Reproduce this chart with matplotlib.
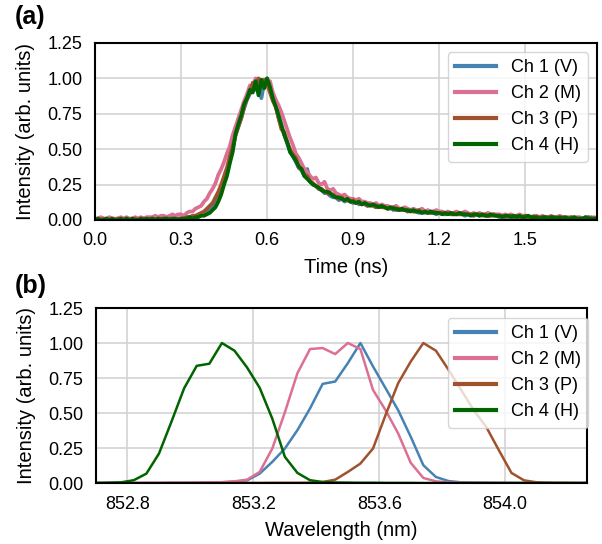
import numpy as np
import matplotlib.pyplot as plt

plt.rcParams["font.family"] = ["Liberation Sans", "DejaVu Sans"]

labels = ["Ch 1 (V)", "Ch 2 (M)", "Ch 3 (P)", "Ch 4 (H)"]
colors = ["#4682B4", "#DB7093", "#A0522D", "#006400"]

# (a) time traces, sampled every 10 ps from 0 to 1.75 ns
time_ns = np.round(np.arange(176) * 0.01, 2)

ch1_time = [
    0.00, 0.00, 0.01, 0.00, 0.00, 0.01, 0.00, 0.00, 0.01, 0.00,
    0.01, 0.00, 0.00, 0.01, 0.00, 0.01, 0.00, 0.00, 0.01, 0.00,
    0.00, 0.01, 0.00, 0.01, 0.01, 0.00, 0.01, 0.01, 0.00, 0.01,
    0.01, 0.01, 0.02, 0.02, 0.02, 0.03, 0.03, 0.04, 0.05, 0.06,
    0.08, 0.10, 0.13, 0.17, 0.21, 0.27, 0.33, 0.42, 0.50, 0.60,
    0.66, 0.72, 0.79, 0.85, 0.89, 0.94, 0.99, 0.95, 0.86, 0.97,
    1.00, 0.93, 0.87, 0.81, 0.72, 0.66, 0.60, 0.54, 0.48, 0.45,
    0.41, 0.37, 0.35, 0.31, 0.36, 0.27, 0.25, 0.24, 0.22, 0.21,
    0.19, 0.19, 0.17, 0.16, 0.16, 0.14, 0.15, 0.13, 0.14, 0.13,
    0.12, 0.13, 0.11, 0.12, 0.11, 0.10, 0.11, 0.10, 0.09, 0.10,
    0.09, 0.09, 0.08, 0.09, 0.07, 0.08, 0.07, 0.07, 0.08, 0.06,
    0.07, 0.06, 0.06, 0.05, 0.06, 0.05, 0.06, 0.05, 0.05, 0.04,
    0.05, 0.05, 0.04, 0.05, 0.04, 0.04, 0.05, 0.04, 0.04, 0.03,
    0.04, 0.04, 0.03, 0.04, 0.03, 0.04, 0.03, 0.03, 0.03, 0.04,
    0.03, 0.02, 0.03, 0.03, 0.02, 0.03, 0.02, 0.03, 0.02, 0.02,
    0.03, 0.02, 0.02, 0.02, 0.01, 0.02, 0.02, 0.02, 0.01, 0.02,
    0.01, 0.02, 0.01, 0.02, 0.01, 0.01, 0.02, 0.01, 0.01, 0.01,
    0.01, 0.01, 0.01, 0.02, 0.01, 0.01,
]
ch2_time = [
    0.01, 0.01, 0.02, 0.01, 0.01, 0.02, 0.01, 0.01, 0.01, 0.02,
    0.01, 0.02, 0.01, 0.01, 0.02, 0.01, 0.02, 0.01, 0.02, 0.02,
    0.02, 0.03, 0.02, 0.03, 0.03, 0.02, 0.03, 0.04, 0.03, 0.04,
    0.04, 0.03, 0.05, 0.06, 0.06, 0.08, 0.09, 0.10, 0.13, 0.15,
    0.19, 0.22, 0.26, 0.32, 0.36, 0.41, 0.47, 0.52, 0.60, 0.66,
    0.72, 0.78, 0.84, 0.89, 0.95, 0.93, 1.00, 0.95, 0.99, 0.97,
    0.95, 0.98, 0.90, 0.85, 0.81, 0.76, 0.70, 0.64, 0.58, 0.53,
    0.47, 0.44, 0.40, 0.36, 0.34, 0.31, 0.29, 0.30, 0.26, 0.25,
    0.27, 0.22, 0.21, 0.22, 0.19, 0.18, 0.17, 0.18, 0.16, 0.15,
    0.15, 0.14, 0.15, 0.13, 0.13, 0.12, 0.12, 0.11, 0.12, 0.10,
    0.11, 0.10, 0.10, 0.09, 0.09, 0.10, 0.08, 0.08, 0.09, 0.08,
    0.07, 0.08, 0.07, 0.07, 0.08, 0.06, 0.07, 0.06, 0.06, 0.07,
    0.06, 0.06, 0.05, 0.06, 0.05, 0.05, 0.06, 0.05, 0.05, 0.06,
    0.05, 0.04, 0.05, 0.04, 0.05, 0.04, 0.04, 0.05, 0.04, 0.04,
    0.04, 0.04, 0.03, 0.04, 0.03, 0.04, 0.03, 0.03, 0.04, 0.03,
    0.03, 0.03, 0.02, 0.03, 0.03, 0.02, 0.03, 0.02, 0.02, 0.03,
    0.02, 0.02, 0.03, 0.02, 0.02, 0.02, 0.01, 0.02, 0.02, 0.02,
    0.01, 0.02, 0.02, 0.01, 0.02, 0.01,
]
ch3_time = [
    0.00, 0.01, 0.00, 0.01, 0.00, 0.00, 0.01, 0.00, 0.01, 0.00,
    0.00, 0.01, 0.00, 0.00, 0.01, 0.00, 0.01, 0.01, 0.00, 0.01,
    0.01, 0.00, 0.01, 0.01, 0.00, 0.01, 0.01, 0.01, 0.00, 0.01,
    0.01, 0.01, 0.02, 0.02, 0.03, 0.03, 0.04, 0.05, 0.06, 0.08,
    0.10, 0.12, 0.16, 0.20, 0.25, 0.31, 0.37, 0.45, 0.52, 0.60,
    0.66, 0.72, 0.80, 0.86, 0.90, 0.97, 0.92, 1.00, 0.94, 0.99,
    0.96, 0.90, 0.84, 0.80, 0.72, 0.64, 0.62, 0.55, 0.50, 0.46,
    0.44, 0.37, 0.36, 0.32, 0.31, 0.27, 0.26, 0.24, 0.22, 0.22,
    0.20, 0.19, 0.18, 0.18, 0.16, 0.15, 0.16, 0.14, 0.14, 0.13,
    0.14, 0.12, 0.12, 0.11, 0.12, 0.10, 0.11, 0.10, 0.09, 0.10,
    0.09, 0.09, 0.08, 0.08, 0.09, 0.07, 0.08, 0.07, 0.07, 0.06,
    0.07, 0.06, 0.06, 0.07, 0.05, 0.06, 0.05, 0.05, 0.06, 0.05,
    0.05, 0.05, 0.04, 0.05, 0.04, 0.05, 0.04, 0.04, 0.05, 0.04,
    0.04, 0.04, 0.03, 0.04, 0.04, 0.03, 0.04, 0.03, 0.03, 0.04,
    0.03, 0.03, 0.03, 0.02, 0.03, 0.03, 0.02, 0.03, 0.02, 0.02,
    0.03, 0.02, 0.02, 0.02, 0.02, 0.02, 0.01, 0.02, 0.02, 0.02,
    0.01, 0.02, 0.01, 0.02, 0.01, 0.01, 0.02, 0.01, 0.01, 0.01,
    0.01, 0.01, 0.02, 0.01, 0.01, 0.01,
]
ch4_time = [
    0.00, 0.01, 0.00, 0.00, 0.01, 0.00, 0.01, 0.00, 0.00, 0.01,
    0.00, 0.01, 0.00, 0.01, 0.00, 0.00, 0.01, 0.00, 0.01, 0.00,
    0.01, 0.00, 0.01, 0.00, 0.01, 0.01, 0.00, 0.01, 0.01, 0.00,
    0.01, 0.01, 0.01, 0.02, 0.01, 0.02, 0.02, 0.03, 0.03, 0.04,
    0.05, 0.07, 0.09, 0.13, 0.18, 0.25, 0.31, 0.40, 0.48, 0.61,
    0.68, 0.74, 0.82, 0.86, 0.92, 0.90, 0.98, 0.88, 0.99, 0.93,
    1.00, 0.94, 0.86, 0.80, 0.74, 0.67, 0.60, 0.55, 0.48, 0.45,
    0.42, 0.38, 0.36, 0.31, 0.29, 0.27, 0.25, 0.24, 0.23, 0.21,
    0.20, 0.20, 0.19, 0.17, 0.16, 0.16, 0.15, 0.14, 0.15, 0.13,
    0.13, 0.12, 0.13, 0.11, 0.12, 0.11, 0.10, 0.11, 0.10, 0.09,
    0.10, 0.09, 0.08, 0.09, 0.08, 0.08, 0.07, 0.08, 0.07, 0.07,
    0.06, 0.07, 0.06, 0.06, 0.05, 0.06, 0.05, 0.06, 0.05, 0.05,
    0.05, 0.04, 0.05, 0.04, 0.05, 0.04, 0.04, 0.05, 0.04, 0.04,
    0.04, 0.03, 0.04, 0.04, 0.03, 0.04, 0.03, 0.03, 0.04, 0.03,
    0.03, 0.03, 0.02, 0.03, 0.03, 0.02, 0.03, 0.02, 0.03, 0.02,
    0.02, 0.03, 0.02, 0.02, 0.02, 0.01, 0.02, 0.02, 0.01, 0.02,
    0.02, 0.01, 0.02, 0.01, 0.02, 0.01, 0.01, 0.02, 0.01, 0.01,
    0.01, 0.02, 0.01, 0.01, 0.01, 0.01,
]

# (b) spectra, 0.04 nm steps from 852.70 to 854.26 nm
wavelength_nm = np.round(852.70 + np.arange(40) * 0.04, 2)

ch1_spec = [
    0, 0, 0, 0, 0, 0, 0.001, 0.001, 0.002, 0.003, 0.005, 0.009,
    0.019, 0.067, 0.151, 0.246, 0.378, 0.533, 0.708, 0.725, 0.856, 1.0,
    0.833, 0.677, 0.52, 0.33, 0.127, 0.043, 0.014, 0.005,
    0.003, 0.002, 0.001, 0.001, 0, 0, 0, 0, 0, 0,
]
ch2_spec = [
    0, 0, 0, 0, 0.001, 0.001, 0.002, 0.002, 0.003, 0.004, 0.006, 0.012,
    0.024, 0.079, 0.246, 0.505, 0.785, 0.957, 0.964, 0.921, 1.0, 0.957,
    0.665, 0.52, 0.354, 0.144, 0.036, 0.012, 0.005, 0.003,
    0.002, 0.001, 0.001, 0, 0, 0, 0, 0, 0, 0,
]
ch3_spec = [
    0, 0, 0, 0, 0, 0, 0, 0, 0, 0, 0, 0.001, 0.001, 0.001, 0.002, 0.002,
    0.002, 0.003, 0.007, 0.024, 0.079, 0.139, 0.246, 0.486, 0.713, 0.868,
    1.0, 0.945, 0.809, 0.665, 0.52, 0.40, 0.234, 0.072, 0.019, 0.005,
    0.002, 0.001, 0, 0,
]
ch4_spec = [
    0, 0.002, 0.005, 0.02, 0.067, 0.21, 0.44, 0.677, 0.837, 0.852,
    1.0, 0.945, 0.825, 0.68, 0.46, 0.187, 0.072, 0.02, 0.007, 0.004,
    0.003, 0.002, 0.002, 0.001, 0.001, 0.001, 0, 0, 0, 0,
    0, 0, 0, 0, 0, 0, 0, 0, 0, 0,
]

time_traces = [ch1_time, ch2_time, ch3_time, ch4_time]
spectra = [ch1_spec, ch2_spec, ch3_spec, ch4_spec]

fig = plt.figure(figsize=(6.02, 5.44), dpi=100)
ax1 = fig.add_axes([0.1578, 0.5956, 0.8339, 0.3254])
ax2 = fig.add_axes([0.1595, 0.1121, 0.8156, 0.3217])


def style(ax):
    ax.grid(True, color="#d3d3d3", lw=1.2)
    ax.set_axisbelow(True)
    for s in ax.spines.values():
        s.set_linewidth(1.5)
        s.set_color("black")
    ax.tick_params(length=0, pad=9, labelsize=13)
    ax.set_ylim(0, 1.25)
    ax.set_yticks([0, 0.25, 0.5, 0.75, 1.0, 1.25])
    ax.set_ylabel("Intensity (arb. units)", fontsize=14.5, labelpad=9)


for y, c, lab in zip(time_traces, colors, labels):
    ax1.plot(time_ns, y, color=c, lw=2.7, label=lab)
style(ax1)
ax1.set_xlim(0, 1.75)
ax1.set_xticks([0.0, 0.3, 0.6, 0.9, 1.2, 1.5])
ax1.set_xlabel("Time (ns)", fontsize=14.5, labelpad=6)
leg1 = ax1.legend(loc="upper right", fontsize=13, handlelength=2.3,
                  edgecolor="#cccccc", fancybox=True)
for h in leg1.get_lines():
    h.set_linewidth(3)

for y, c, lab in zip(spectra, colors, labels):
    ax2.plot(wavelength_nm, y, color=c, lw=1.8, label=lab)
style(ax2)
ax2.set_xlim(852.70, 854.26)
ax2.set_xticks([852.8, 853.2, 853.6, 854.0])
ax2.set_xlabel("Wavelength (nm)", fontsize=14.5, labelpad=6)
leg2 = ax2.legend(loc="upper right", fontsize=13, handlelength=2.3,
                  edgecolor="#cccccc", fancybox=True,
                  bbox_to_anchor=(1.002, 0.943), borderaxespad=0)
for h in leg2.get_lines():
    h.set_linewidth(3)

fig.text(0.025, 0.99, "(a)", fontsize=18, fontweight="bold", va="top")
fig.text(0.025, 0.497, "(b)", fontsize=18, fontweight="bold", va="top")

fig.savefig("out.png", dpi=100)
